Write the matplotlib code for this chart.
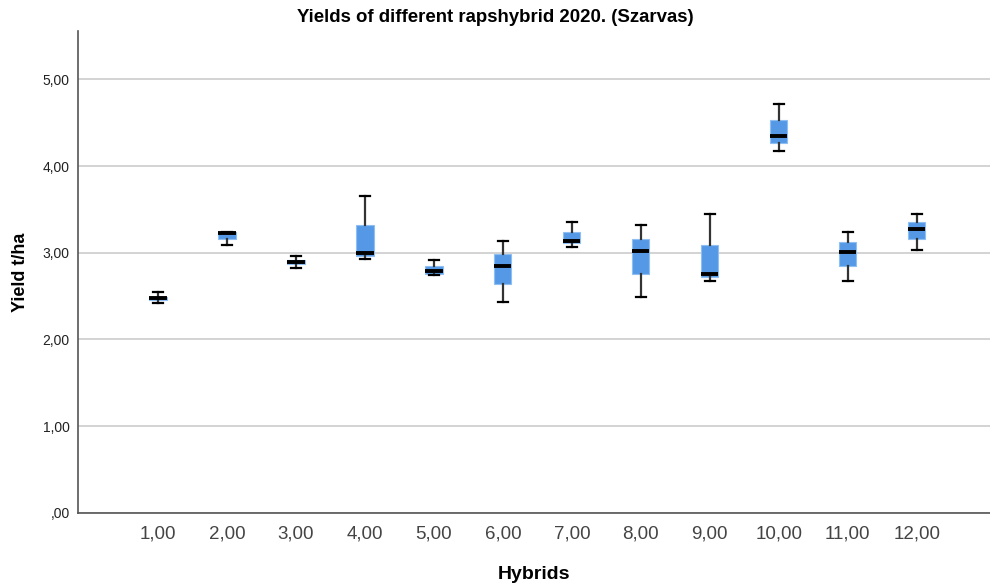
import matplotlib.pyplot as plt
import numpy as np

# hybrid ids and the box stats (t/ha)
hybrids = [1, 2, 3, 4, 5, 6, 7, 8, 9, 10, 11, 12]
whislo = [2.42, 3.09, 2.83, 2.93, 2.74, 2.43, 3.07, 2.49, 2.68, 4.17, 2.68, 3.03]
q1 = [2.455, 3.16, 2.87, 2.96, 2.76, 2.64, 3.11, 2.76, 2.72, 4.27, 2.85, 3.16]
med = [2.475, 3.225, 2.895, 3.00, 2.785, 2.85, 3.135, 3.02, 2.75, 4.35, 3.01, 3.27]
q3 = [2.49, 3.245, 2.92, 3.32, 2.85, 2.99, 3.245, 3.16, 3.09, 4.53, 3.12, 3.35]
whishi = [2.545, 3.245, 2.96, 3.65, 2.92, 3.14, 3.355, 3.32, 3.45, 4.72, 3.24, 3.45]

plt.rcParams['font.family'] = ['Liberation Sans', 'DejaVu Sans']

stats = []
for i in range(len(hybrids)):
    stats.append({'whislo': whislo[i], 'q1': q1[i], 'med': med[i],
                  'q3': q3[i], 'whishi': whishi[i], 'fliers': []})

fig = plt.figure(figsize=(9.9, 5.84), dpi=100)
ax = fig.add_axes([0.0788, 0.122, 0.921, 0.825])

ax.bxp(stats, positions=hybrids, widths=0.25, patch_artist=True,
       showfliers=False,
       boxprops=dict(facecolor='#5599e6', edgecolor='#8fbff2', linewidth=0.8),
       medianprops=dict(color='black', linewidth=2.8),
       whiskerprops=dict(color='#333333', linewidth=1.6),
       capprops=dict(color='black', linewidth=1.6),
       capwidths=0.15)

ax.set_xlim(-0.16, 13.06)
ax.set_ylim(0, 5.56)
yt = [0, 1, 2, 3, 4, 5]
ax.set_yticks(yt)
ax.set_yticklabels([f'{v:.2f}'.replace('.', ',').lstrip('0') for v in yt], fontsize=10, color='#222222')
ax.set_xticks(hybrids)
ax.set_xticklabels([f'{h:.2f}'.replace('.', ',') for h in hybrids], fontsize=13.5, color='#444444')
ax.tick_params(axis='both', length=0)
ax.tick_params(axis='x', pad=9)
ax.tick_params(axis='y', pad=6)

ax.grid(axis='y', color='#cccccc', linewidth=1.2)
ax.set_axisbelow(True)
for s in ['top', 'right']:
    ax.spines[s].set_visible(False)
for s in ['left', 'bottom']:
    ax.spines[s].set_color('#555555')
    ax.spines[s].set_linewidth(1.2)

fig.text(0.5, 1 - 17 / 584, 'Yields of different rapshybrid 2020. (Szarvas)',
         fontsize=13.4, fontweight='bold', ha='center', va='center')
ax.set_xlabel('Hybrids', fontsize=14, fontweight='bold', labelpad=17)
ax.set_ylabel('Yield t/ha', fontsize=13, fontweight='bold', labelpad=10)

fig.savefig('out.png', dpi=100)
